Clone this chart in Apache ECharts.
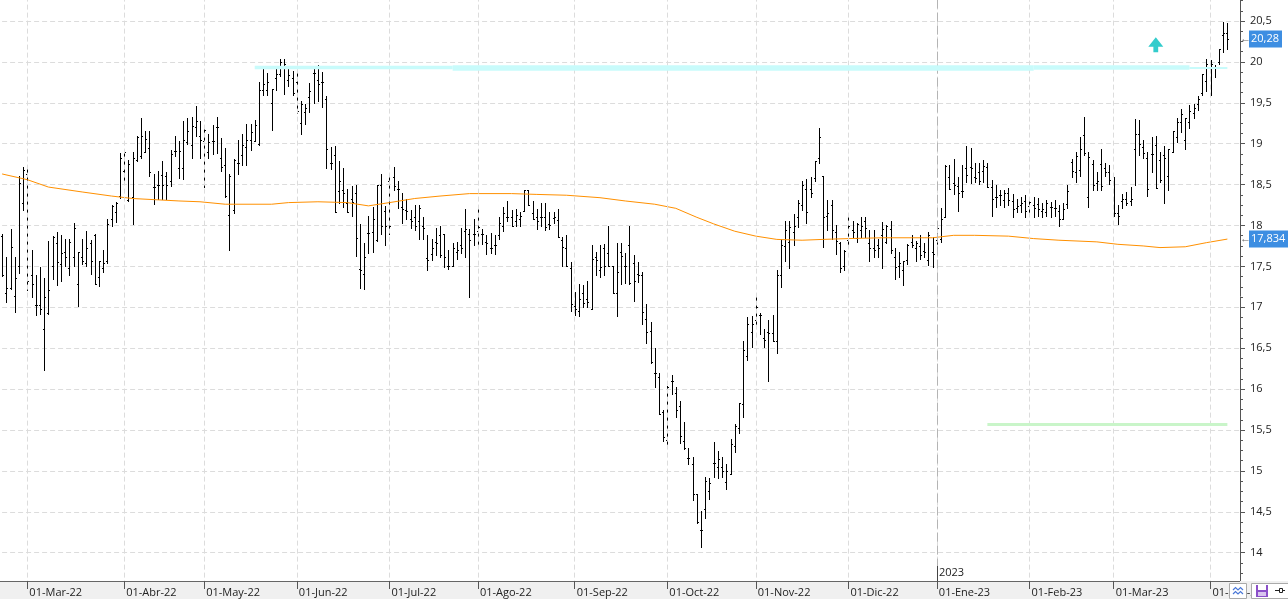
<!DOCTYPE html>
<html><head><meta charset="utf-8">
<script src="https://cdn.jsdelivr.net/npm/echarts@6/dist/echarts.min.js"></script>
<style>html,body{margin:0;padding:0;background:#fff}#c{width:1288px;height:599px}</style>
</head><body><div id="c"></div>
<script>
// ---------- DATA ----------
const START_DATE = '2022-02-21';
const HOLIDAYS = ['2022-04-15','2022-04-18','2022-12-26','2023-04-07','2023-04-10'];
const MONTHS_ES = ['Ene','Feb','Mar','Abr','May','Jun','Jul','Ago','Sep','Oct','Nov','Dic'];
const N_CATEGORIES = 295;

const opens = [
17.87,17.18,17.23,17.14,17.50,18.27,18.63,17.40,17.03,17.03,16.73,16.93,17.51,17.79,17.53,17.68,17.48,17.61,17.29,17.62,
17.54,17.79,17.88,17.37,17.48,17.56,18.08,18.16,18.36,18.67,18.31,18.35,18.80,18.85,18.90,18.95,18.47,18.50,18.62,18.60,
18.55,18.91,18.70,18.70,19.02,18.98,19.20,19.10,19.03,18.90,19.03,19.20,18.82,18.74,18.13,18.19,18.76,18.86,18.96,19.04,
19.03,19.00,19.66,19.66,19.50,19.80,19.85,19.95,19.78,19.80,19.76,19.25,19.39,
19.57,19.87,19.78,19.76,19.55,18.76,18.86,18.42,18.43,18.27,18.32,18.40,17.47,17.41,17.91,17.92,17.82,18.50,18.18,18.55,
18.59,18.45,18.23,18.19,18.08,18.10,18.05,18.00,17.60,17.65,17.80,17.88,17.89,17.50,17.50,17.68,17.76,17.93,17.90,17.89,
17.93,17.90,17.80,17.72,17.76,17.88,18.00,18.10,18.10,18.05,18.08,18.18,18.44,18.15,18.10,18.10,18.10,18.02,18.09,18.07,
17.82,17.73,17.48,17.02,16.95,17.18,17.10,16.98,17.62,17.46,17.73,17.66,17.51,17.17,17.68,
17.50,17.76,17.54,17.41,17.40,16.86,16.71,16.20,16.15,15.72,15.38,16.10,15.95,15.79,15.36,15.16,15.09,14.72,14.28,14.53,
14.75,15.10,15.05,15.05,14.86,14.96,15.30,15.53,15.82,16.40,16.70,16.85,16.90,16.62,16.70,16.69,16.59,17.40,17.75,17.80,
17.92,18.10,18.25,18.45,18.45,18.58,18.82,18.60,18.12,18.25,17.92,17.78,17.50,17.82,17.95,17.85,17.95,18.05,17.78,17.72,
17.76,17.88,17.80,17.96,17.62,17.50,17.45,17.58,17.80,17.72,17.75,17.69,17.58,17.68,
17.82,17.83,18.10,18.59,18.52,18.48,18.42,18.70,18.71,18.59,18.65,18.67,18.72,18.47,18.35,18.37,18.31,18.40,18.30,18.22,
18.25,18.30,18.24,18.25,18.26,18.18,18.17,18.23,18.22,18.18,18.08,18.26,18.78,18.65,18.68,19.11,18.35,18.75,18.52,18.75,
18.70,18.66,18.25,18.15,18.30,18.33,18.30,18.93,19.12,18.96,18.82,18.88,18.98,18.80,18.86,18.60,18.90,19.08,19.27,19.04,
19.26,19.38,19.48,19.62,19.77,19.98,19.94,20.00,20.33,20.35
];
const highs = [
17.90,17.61,17.96,17.61,18.60,18.71,18.71,17.70,17.40,17.49,17.36,17.81,17.87,17.92,17.88,17.84,17.83,18.03,17.68,17.83,
17.93,17.82,17.90,17.57,17.70,18.08,18.25,18.29,18.89,18.91,18.80,18.90,19.09,19.32,19.16,19.15,18.63,18.67,18.79,18.65,
18.92,19.10,19.03,19.28,19.32,19.33,19.46,19.28,19.21,19.12,19.23,19.33,19.07,18.95,18.63,18.81,19.05,19.12,19.24,19.24,
19.29,19.76,19.91,19.86,19.67,19.92,20.04,20.04,19.95,19.89,19.95,19.52,19.49,
19.74,19.92,19.96,19.88,19.58,18.96,18.97,18.79,18.70,18.45,18.48,18.49,18.02,17.78,18.12,18.23,18.50,18.63,18.24,18.59,
18.72,18.55,18.40,18.32,18.19,18.25,18.25,18.11,17.88,17.83,17.97,17.99,17.89,17.70,17.78,17.80,17.97,18.20,17.96,18.08,
18.20,17.96,17.88,17.91,17.88,18.11,18.23,18.30,18.19,18.20,18.16,18.44,18.44,18.30,18.20,18.28,18.27,18.16,18.16,18.20,
17.86,17.88,17.55,17.19,17.29,17.27,17.32,17.76,17.67,17.76,17.77,18.00,17.51,17.78,17.78,
17.66,17.99,17.64,17.55,17.43,17.04,16.82,16.50,16.20,15.74,16.04,16.17,16.02,15.85,15.60,15.28,15.17,14.72,14.51,14.93,
14.91,15.35,15.24,15.17,15.09,15.39,15.57,15.83,16.59,16.88,16.89,17.12,16.93,16.74,16.85,16.91,17.45,17.84,18.05,18.05,
18.14,18.31,18.55,18.57,18.59,18.79,19.19,18.60,18.31,18.31,18.01,17.80,17.70,18.14,18.06,18.03,18.11,18.10,17.94,17.94,
17.84,18.04,18.01,18.06,17.72,17.68,17.57,17.77,17.88,17.81,17.88,17.79,17.92,17.86,
17.98,18.21,18.74,18.74,18.81,18.59,18.74,18.97,18.95,18.76,18.76,18.80,18.76,18.56,18.50,18.44,18.43,18.46,18.39,18.33,
18.35,18.37,18.33,18.35,18.34,18.27,18.31,18.29,18.31,18.25,18.28,18.50,18.81,18.90,19.08,19.33,18.90,18.80,18.66,18.94,
18.76,18.74,18.59,18.25,18.39,18.41,18.47,19.30,19.29,19.04,18.90,19.08,19.09,18.90,18.97,18.94,19.15,19.31,19.43,19.31,
19.47,19.48,19.58,19.85,20.03,20.02,19.96,20.16,20.49,20.47
];
const lows = [
17.38,17.06,17.22,16.94,17.42,18.19,17.21,17.12,16.90,16.92,16.23,16.92,17.35,17.27,17.32,17.50,17.40,17.50,17.02,17.53,
17.50,17.41,17.28,17.26,17.43,17.54,17.99,18.04,18.34,18.53,18.30,18.02,18.79,18.83,18.90,18.60,18.26,18.32,18.32,18.33,
18.48,18.85,18.58,18.57,19.00,18.83,19.10,18.83,18.47,18.83,18.88,18.89,18.67,18.35,17.70,18.15,18.63,18.74,18.74,18.92,
19.03,18.98,19.59,19.59,19.17,19.66,19.83,19.61,19.70,19.59,19.37,19.12,19.24,
19.39,19.50,19.52,19.45,18.70,18.69,18.16,18.28,18.23,18.16,18.12,17.63,17.23,17.22,17.66,17.68,17.81,17.90,17.76,17.90,
18.44,18.21,18.03,18.08,17.97,17.95,17.84,17.84,17.46,17.58,17.64,17.62,17.49,17.47,17.50,17.59,17.66,17.62,17.12,17.76,
17.76,17.77,17.65,17.66,17.65,17.83,17.93,18.06,17.99,17.99,18.00,18.18,18.25,18.08,17.96,18.00,17.95,17.96,18.03,17.86,
17.51,17.50,16.95,16.90,16.89,17.00,17.00,16.98,17.39,17.37,17.39,17.51,17.17,16.89,17.29,
17.30,17.28,17.08,17.31,16.80,16.56,16.32,16.02,15.70,15.36,15.32,15.94,15.66,15.34,15.27,15.09,14.64,14.36,14.07,14.43,
14.66,14.92,14.91,14.93,14.78,14.96,15.23,15.46,15.66,16.35,16.51,16.76,16.67,16.51,16.10,16.59,16.44,17.25,17.57,17.48,
17.76,17.98,18.19,18.03,18.35,18.55,18.77,17.74,17.95,17.84,17.65,17.43,17.45,17.74,17.86,17.80,17.86,17.86,17.57,17.62,
17.62,17.48,17.78,17.66,17.34,17.37,17.27,17.53,17.74,17.57,17.59,17.62,17.52,17.49,
17.74,17.80,18.10,18.45,18.39,18.18,18.35,18.53,18.52,18.53,18.51,18.53,18.47,18.12,18.23,18.25,18.23,18.25,18.10,18.16,
18.17,18.10,18.17,18.10,18.12,18.10,18.12,18.10,18.12,18.00,18.08,18.21,18.59,18.53,18.61,18.86,18.23,18.44,18.43,18.44,
18.61,18.51,18.12,18.02,18.21,18.25,18.25,18.50,18.86,18.82,18.36,18.65,18.46,18.53,18.28,18.43,18.90,19.02,19.14,18.93,
19.19,19.32,19.41,19.59,19.65,19.59,19.82,19.97,20.12,20.16
];
const closes = [
17.40,17.23,17.74,17.36,18.52,18.68,17.32,17.29,17.03,16.98,17.12,17.21,17.86,17.55,17.66,17.62,17.80,17.97,17.68,17.57,
17.72,17.56,17.29,17.56,17.54,18.02,18.24,18.28,18.82,18.90,18.75,18.82,19.08,19.10,19.06,18.65,18.47,18.50,18.50,18.49,
18.87,18.91,18.91,19.05,19.16,19.22,19.28,19.05,19.17,19.02,19.03,19.20,18.72,18.36,18.60,18.80,18.76,18.98,19.05,19.14,
19.23,19.66,19.73,19.75,19.67,19.85,20.00,19.98,19.84,19.62,19.40,19.48,19.44,
19.65,19.87,19.73,19.76,18.93,18.76,18.17,18.54,18.40,18.16,18.29,17.85,17.46,17.62,17.91,18.08,18.50,18.00,18.00,17.99,
18.48,18.45,18.20,18.18,18.05,18.00,18.22,17.97,17.58,17.72,17.78,17.64,17.62,17.50,17.72,17.70,17.73,17.96,17.82,17.90,
17.98,17.90,17.78,17.72,17.76,18.03,18.15,18.10,18.00,18.13,18.12,18.44,18.25,18.08,18.06,18.10,17.98,18.01,18.10,17.86,
17.74,17.51,17.04,16.98,17.10,17.05,17.07,17.59,17.58,17.49,17.51,17.51,17.18,17.43,17.63,
17.50,17.30,17.32,17.40,16.94,16.70,16.33,16.20,15.70,15.42,16.02,16.10,15.74,15.43,15.28,15.16,14.72,14.37,14.28,14.88,
14.85,15.10,15.14,15.00,15.00,15.33,15.55,15.83,16.48,16.80,16.80,17.00,16.90,16.60,16.68,16.59,17.40,17.76,17.95,17.98,
18.00,18.28,18.50,18.16,18.40,18.79,19.08,18.11,18.15,17.95,17.81,17.48,17.69,18.00,17.92,18.02,18.00,17.97,17.72,17.70,
17.73,17.96,18.00,17.70,17.49,17.54,17.57,17.76,17.76,17.78,17.64,17.67,17.88,17.65,
17.97,18.08,18.73,18.45,18.50,18.40,18.42,18.62,18.70,18.58,18.55,18.73,18.47,18.32,18.35,18.37,18.40,18.31,18.20,18.24,
18.28,18.18,18.29,18.22,18.20,18.20,18.27,18.23,18.22,18.08,18.20,18.42,18.67,18.85,18.93,18.89,18.84,18.50,18.55,18.48,
18.66,18.56,18.15,18.12,18.33,18.28,18.32,19.12,19.00,18.89,18.45,18.88,18.46,18.56,18.83,18.93,19.15,19.27,19.36,19.31,
19.40,19.44,19.55,19.85,19.97,19.98,19.94,20.16,20.35,20.28
];
// moving average, [bar index, value]
const maPoints = [
[0,18.63],[6,18.56],[11,18.47],[19,18.41],[26,18.36],[31,18.33],[42,18.30],[47,18.29],[53,18.26],[64,18.26],
[68,18.28],[75,18.29],[82,18.28],[87,18.24],[92,18.28],[98,18.33],[104,18.36],[111,18.39],[121,18.39],[127,18.38],
[134,18.37],[142,18.34],[148,18.30],[155,18.26],[160,18.21],[165,18.10],[169,18.02],[174,17.93],[179,17.87],[184,17.83],
[190,17.82],[195,17.83],[201,17.84],[209,17.85],[221,17.85],[226,17.88],[231,17.88],[239,17.87],[245,17.84],[251,17.82],
[260,17.80],[265,17.77],[271,17.75],[275,17.73],[281,17.74],[286,17.79],[291,17.834]
];
const resistanceValue = 19.93;
const resistanceSegments = [[60,107],[107,245],[245,282],[282,291]];
const supportValue = 15.567;
const supportSegment = [234,291];
const arrowMark = [274, 20.21];

// ---------- CATEGORIES ----------
function tradingDays(start, n) {
  const p = start.split('-').map(Number);
  let d = new Date(Date.UTC(p[0], p[1]-1, p[2]));
  const out = [];
  while (out.length < n) {
    const s = d.toISOString().slice(0,10);
    const wd = d.getUTCDay();
    if (wd !== 0 && wd !== 6 && HOLIDAYS.indexOf(s) < 0) out.push(s);
    d = new Date(d.getTime() + 86400000);
  }
  return out;
}
const dates = tradingDays(START_DATE, N_CATEGORIES);
const monthStart = dates.map((d,i)=> i>0 && d.slice(0,7) !== dates[i-1].slice(0,7));
const monthIdx = dates.map((d,i)=>i).filter(i=>monthStart[i]);
const yearIdx = dates.findIndex(d => d.slice(0,4) === '2023');
const fmtMonth = d => '01-' + MONTHS_ES[+d.slice(5,7)-1] + '-' + d.slice(2,4);
const fmtNum = v => String(v).replace('.', ',');

const FONT = '"Open Sans", "Noto Sans", sans-serif';
const ohlcData = opens.map((o,i)=>[i, o, highs[i], lows[i], closes[i]]);

function renderOHLC(params, api) {
  const i = api.value(0);
  const pO = api.coord([i, api.value(1)]);
  const pH = api.coord([i, api.value(2)]);
  const pL = api.coord([i, api.value(3)]);
  const pC = api.coord([i, api.value(4)]);
  const x = Math.round(pH[0]) + 0.5;
  const yo = Math.round(pO[1]) + 0.5, yc = Math.round(pC[1]) + 0.5;
  const st = {stroke:'#000', lineWidth:1};
  return {type:'group', children:[
    {type:'line', shape:{x1:x, y1:Math.round(pH[1]), x2:x, y2:Math.round(pL[1])+1}, style:st},
    {type:'line', shape:{x1:x-1.5, y1:yo, x2:x, y2:yo}, style:st},
    {type:'line', shape:{x1:x, y1:yc, x2:x+1.5, y2:yc}, style:st}
  ]};
}

const segWidths = [3.3, 5.5, 4.5, 2];
const levelLines = [];
monthIdx.forEach(i => levelLines.push({xAxis: dates[i], lineStyle:{color:'#dcdcdc', type:[5,3], width:1}}));
levelLines.push({xAxis: dates[yearIdx], lineStyle:{color:'#b4b4b4', type:[9,4], width:1}});
resistanceSegments.forEach((s,k) => levelLines.push([
  {coord:[s[0], resistanceValue], lineStyle:{color:'#c8fbfb', width:segWidths[k], type:'solid'}},
  {coord:[s[1], resistanceValue]}
]));
levelLines.push([
  {coord:[supportSegment[0], supportValue], lineStyle:{color:'#c9f5c9', width:3, type:'solid'}},
  {coord:[supportSegment[1], supportValue]}
]);

const chart = echarts.init(document.getElementById('c'), null, {renderer:'canvas'});
const option = {
  animation: false,
  backgroundColor: '#fff',
  grid: {left: 2.1, right: 48, top: -19.9, bottom: 5.4, containLabel: false, outerBoundsMode: 'none'},
  xAxis: {
    type: 'category', data: dates, boundaryGap: false, offset: -12.6, z: 10,
    axisLine: {show: false},
    axisTick: {show: true, interval: (i) => monthStart[i], length: 8, lineStyle: {color: '#555'}},
    axisLabel: {interval: (i) => monthStart[i], formatter: fmtMonth, align: 'left', margin: 6,
      padding: [0,0,0,2], fontSize: 11, fontFamily: FONT, color: '#222'},
    splitLine: {show: false}
  },
  yAxis: {
    type: 'value', position: 'right', min: 13.5, max: 21, interval: 0.5,
    axisLine: {show: true, lineStyle: {color: '#555'}},
    axisTick: {show: true, length: 5, lineStyle: {color: '#555'}},
    minorTick: {show: true, splitNumber: 4, length: 3, lineStyle: {color: '#555'}},
    axisLabel: {margin: 10, fontSize: 11, fontFamily: FONT, color: '#222',
      formatter: v => (v < 14 || v > 20.5) ? '' : fmtNum(+v.toFixed(1))},
    splitLine: {show: true, lineStyle: {color: '#dcdcdc', type: [5,3]}}
  },
  series: [
    {type:'line', name:'levels', data: [], z: 1, silent: true,
     markLine: {silent: true, symbol: 'none', label: {show: false}, animation: false,
       emphasis: {disabled: true}, data: levelLines}},
    {type:'custom', name:'ohlc', data: ohlcData, renderItem: renderOHLC, z: 3,
     encode: {x: 0, y: [1,2,3,4]}, silent: true},
    {type:'line', name:'ma', data: maPoints, showSymbol: false, symbol: 'none', z: 4, silent: true,
     lineStyle: {color: '#ff9000', width: 1}}
  ]
};
chart.setOption(option);

// overlay elements positioned through the chart scales
const lastClose = closes[closes.length-1];
const lastMA = maPoints[maPoints.length-1][1];
const tagY1 = chart.convertToPixel({yAxisIndex:0}, lastClose);
const tagY2 = chart.convertToPixel({yAxisIndex:0}, lastMA);
const yearX = chart.convertToPixel({xAxisIndex:0}, dates[yearIdx]);
const arrowP = chart.convertToPixel({gridIndex:0}, arrowMark);
const axisY = 581;
function tag(y, txt) {
  return [
    {type:'text', x:1240, y:y, z:20, style:{text:'←', fill:'#666', font:'11px ' + FONT, align:'left', verticalAlign:'middle'}},
    {type:'text', x:1249, y:y, z:20, style:{text:txt, fill:'#fff', font:'11px ' + FONT, backgroundColor:'#3d8ee2',
      padding:[3,3,3,2], align:'left', verticalAlign:'middle'}}
  ];
}
const elements = [
  {type:'rect', z:5, shape:{x:0, y:axisY, width:1288, height:18}, style:{fill:'#f0f0f0'}},
  {type:'line', z:6, shape:{x1:0, y1:axisY+0.5, x2:1240, y2:axisY+0.5}, style:{stroke:'#666', lineWidth:1}},
  {type:'line', z:6, shape:{x1:Math.round(yearX)+0.5, y1:566, x2:Math.round(yearX)+0.5, y2:axisY}, style:{stroke:'#444', lineWidth:1}},
  {type:'text', z:6, x:Math.round(yearX)+2, y:573, style:{text:'2023', fill:'#222', font:'11px ' + FONT, align:'left', verticalAlign:'middle'}},
  {type:'polygon', z:6, x:arrowP[0], y:arrowP[1], shape:{points:[[0,-7.5],[7.5,2],[2.4,2],[2.4,7.5],[-2.4,7.5],[-2.4,2],[-7.5,2]]},
    style:{fill:'#33cccc'}},
  // bottom-right buttons
  {type:'rect', z:20, shape:{x:1229.5, y:583.5, width:17, height:15}, style:{fill:'#fff', stroke:'#aaa', lineWidth:1}},
  {type:'polyline', z:21, shape:{points:[[1233,590],[1235.5,587.5],[1238,590],[1240.5,587.5],[1243,590]]}, style:{stroke:'#4a78d8', lineWidth:1.2, fill:null}},
  {type:'polyline', z:21, shape:{points:[[1233,594],[1235.5,591.5],[1238,594],[1240.5,591.5],[1243,594]]}, style:{stroke:'#4a78d8', lineWidth:1.2, fill:null}},
  {type:'rect', z:20, shape:{x:1251.5, y:583.5, width:37, height:15}, style:{fill:'#fff', stroke:'#aaa', lineWidth:1}},
  {type:'rect', z:21, shape:{x:1256, y:585, width:12, height:12}, style:{fill:'#8b4fc9'}},
  {type:'rect', z:22, shape:{x:1258, y:585, width:8, height:5}, style:{fill:'#fff'}},
  {type:'rect', z:22, shape:{x:1258, y:592, width:8, height:4}, style:{fill:'#d8c4ee'}},
  {type:'line', z:21, shape:{x1:1275, y1:590.5, x2:1279, y2:590.5}, style:{stroke:'#222', lineWidth:1}},
  {type:'rect', z:21, shape:{x:1279.5, y:588.5, width:3, height:4}, style:{fill:'#fff', stroke:'#222', lineWidth:1}},
  {type:'line', z:21, shape:{x1:1283, y1:590.5, x2:1285, y2:590.5}, style:{stroke:'#222', lineWidth:1}}
].concat(tag(tagY1, fmtNum(lastClose)), tag(tagY2, fmtNum(lastMA)));
chart.setOption({graphic: {elements: elements}});
</script></body></html>
